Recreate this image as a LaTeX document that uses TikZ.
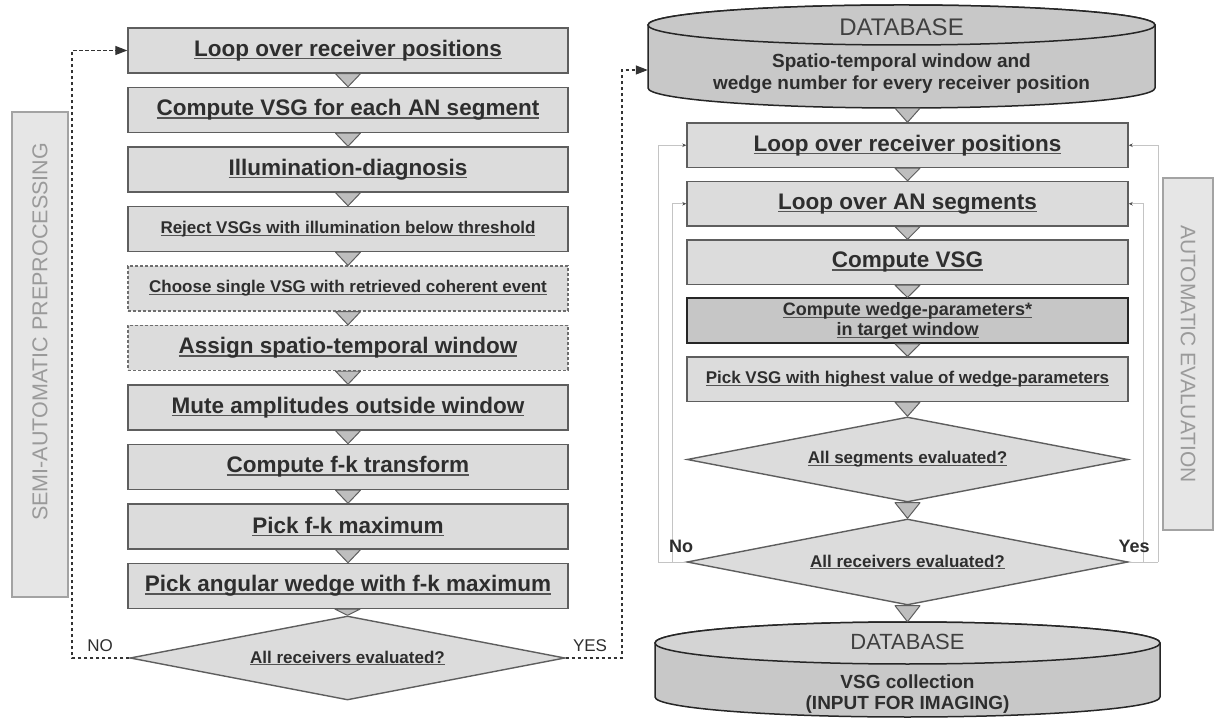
\documentclass[tikz,border=0pt]{standalone}
\usepackage{fontspec}
\setmainfont{Liberation Sans}
\usepackage{graphicx}
\usetikzlibrary{shapes.geometric,arrows.meta,calc}
\definecolor{boxc}{HTML}{DCDCDC}
\definecolor{bordc}{HTML}{5E5E5E}
\definecolor{txtc}{HTML}{2E2E2E}
\definecolor{ulc}{HTML}{555555}
\definecolor{trifill}{HTML}{BEBEBE}
\definecolor{cylc}{HTML}{C8C8C8}
\definecolor{cyltop}{HTML}{D4D4D4}
\definecolor{darkbox}{HTML}{C6C6C6}
\definecolor{sidec}{HTML}{E6E6E6}
\definecolor{sideb}{HTML}{A3A3A3}
\definecolor{sidet}{HTML}{9A9A9A}
\definecolor{loopc}{HTML}{C4C4C4}
\newsavebox\ulbx
\newcommand\myul[1]{\sbox\ulbx{#1}\leavevmode\rlap{\color{ulc}\rule[-0.13em]{\wd\ulbx}{0.06em}}\usebox\ulbx}
\newcommand\trian[2]{\filldraw[trist] ($(#1.south -| #2.north)+(-12.5pt,0)$) -- ($(#1.south -| #2.north)+(12.5pt,0)$) -- (#2.north) -- cycle;}
\tikzset{
  box/.style={draw=bordc, fill=boxc, line width=1.4pt, minimum width=440pt, minimum height=45pt, inner sep=0pt, text=txtc, font=\bfseries\fontsize{22.5}{26}\selectfont},
  rbox/.style={box, minimum width=441pt, minimum height=44.5pt},
  smalltxt/.style={font=\bfseries\fontsize{17}{21}\selectfont},
  dashbox/.style={dash pattern=on 3pt off 2pt, line width=1.2pt, draw=bordc!90},
  dia/.style={diamond, aspect=5, draw=bordc, fill=boxc, line width=1.4pt, inner sep=0pt, text=txtc, font=\bfseries\fontsize{17}{21}\selectfont},
  trist/.style={fill=trifill, draw=bordc, line width=1pt, line join=round},
  cylst/.style={fill=cylc, draw=black!85, line width=1.5pt},
  sidebox/.style={draw=sideb, fill=sidec, line width=2.5pt, inner sep=0pt},
  sidetext/.style={inner sep=0pt, text=sidet, font=\fontsize{21.5}{24}\selectfont},
  dashline/.style={draw=black!80, line width=1.2pt, dash pattern=on 3.5pt off 2.5pt},
  loopl/.style={draw=loopc, line width=0.7pt},
  lbl/.style={inner sep=0pt, text=txtc},
}
\begin{document}
\begin{tikzpicture}[x=1pt,y=1pt]
\useasboundingbox (0,0) rectangle (1217,720);
% ---------- left side label
\node[sidebox, minimum width=56pt, minimum height=485pt] (lab1) at (40,365.5) {};
\node[sidetext, rotate=90] (lab1t) at (40,388) {SEMI-AUTOMATIC PREPROCESSING};
% ---------- left column
\node[box] (b1) at (348,669.5) {\myul{Loop over receiver positions}};
\node[box] (b2) at (348,610) {\myul{Compute VSG for each AN segment}};
\node[box] (b3) at (348,550.5) {\myul{Illumination-diagnosis}};
\node[box, smalltxt] (b4) at (348,491) {\myul{Reject VSGs with illumination below threshold}};
\node[box, smalltxt, dashbox] (b5) at (348,431.5) {\myul{Choose single VSG with retrieved coherent event}};
\node[box, dashbox] (b6) at (348,372) {\myul{Assign spatio-temporal window}};
\node[box] (b7) at (348,312.5) {\myul{Mute amplitudes outside window}};
\node[box] (b8) at (348,253) {\myul{Compute f-k transform}};
\node[box] (b9) at (348,193.5) {\myul{Pick f-k maximum}};
\node[box] (b10) at (348,134) {\myul{Pick angular wedge with f-k maximum}};
\node[dia, minimum width=435pt, minimum height=84pt] (d0) at (347.5,62) {\myul{All receivers evaluated?}};
\trian{b1}{b2}\trian{b2}{b3}\trian{b3}{b4}\trian{b4}{b5}\trian{b5}{b6}
\trian{b6}{b7}\trian{b7}{b8}\trian{b8}{b9}\trian{b9}{b10}\trian{b10}{d0}
\node[lbl, font=\fontsize{17}{20}\selectfont] (no0) at (100,74) {NO};
\node[lbl, font=\fontsize{17}{20}\selectfont] (yes0) at (590,74) {YES};
\coordinate (cL) at (72,62);
\coordinate (cR) at (622,62);
\coordinate (cRt) at (622,650);
\draw[dashline, -{Triangle[length=12pt,width=9pt]}] (d0.west) -- (cL) |- (b1.west);
% ---------- right column: top database
\node[minimum width=507pt, minimum height=103pt, inner sep=0pt] (db1) at (901.5,663.5) {};
\filldraw[cylst] (648,695) -- (648,632) arc[start angle=180,end angle=360,x radius=253.5pt,y radius=20pt] -- (1155,695) arc[start angle=0,end angle=180,x radius=253.5pt,y radius=20pt] -- cycle;
\draw[cylst] (901.5,695) ellipse [x radius=253.5pt, y radius=20pt];
\node[lbl, font=\fontsize{24}{28}\selectfont, text=black!75] (db1t) at (901.5,693) {DATABASE};
\node[lbl, align=center, font=\bfseries\fontsize{19}{22}\selectfont] (db1b) at (901.5,646) {Spatio-temporal window and\\wedge number for every receiver position};
\draw[dashline, -{Triangle[length=12pt,width=9pt]}] (d0.east) -- (cR) -- (cRt) -- (cRt -| db1.west);
% ---------- right boxes
\node[rbox] (r1) at (907.5,574.75) {\myul{Loop over receiver positions}};
\node[rbox] (r2) at (907.5,516.25) {\myul{Loop over AN segments}};
\node[rbox] (r3) at (907.5,457.75) {\myul{Compute VSG}};
\node[rbox, fill=darkbox, draw=black!85, line width=2pt, align=center, font=\bfseries\fontsize{18}{20}\selectfont] (r4) at (907.5,399.25) {\myul{Compute wedge-parameters*}\\\myul{in target window}};
\node[rbox, smalltxt] (r5) at (907.5,340.75) {\myul{Pick VSG with highest value of wedge-parameters}};
\node[dia, minimum width=441pt, minimum height=85pt] (d1) at (907.5,260.5) {\myul{All segments evaluated?}};
\node[dia, minimum width=441pt, minimum height=86pt] (d2) at (907.5,158) {\myul{All receivers evaluated?}};
% ---------- bottom database
\node[minimum width=505pt, minimum height=95pt, inner sep=0pt] (db2) at (907.5,50.5) {};
\filldraw[cylst] (655,77) -- (655,23) arc[start angle=180,end angle=360,x radius=252.5pt,y radius=20pt] -- (1160,77) arc[start angle=0,end angle=180,x radius=252.5pt,y radius=21pt] -- cycle;
\draw[cylst, fill=cyltop] (907.5,77) ellipse [x radius=252.5pt, y radius=21pt];
\node[lbl, font=\fontsize{22}{26}\selectfont, text=black!75] (db2t) at (907.5,78) {DATABASE};
\node[lbl, align=center, font=\bfseries\fontsize{19}{21}\selectfont] (db2b) at (907.5,26) {VSG collection\\(INPUT FOR IMAGING)};
\trian{db1}{r1}\trian{r1}{r2}\trian{r2}{r3}\trian{r3}{r4}\trian{r4}{r5}
\trian{r5}{d1}\trian{d1}{d2}\trian{d2}{db2}
% ---------- loops
\coordinate (lo) at (658,158);
\coordinate (li) at (672,158);
\coordinate (ro) at (1158,158);
\coordinate (ri) at (1143,158);
\draw[loopl] (d2.west) -- (lo);
\draw[loopl] (d2.east) -- (ro);
\draw[loopl, -{Stealth[length=4pt,width=3.5pt,color=black!70]}] (lo) |- (r1.west);
\draw[loopl, -{Stealth[length=4pt,width=3.5pt,color=black!70]}] (li) |- (r2.west);
\draw[loopl, -{Stealth[length=4pt,width=3.5pt,color=black!70]}] (ro) |- (r1.east);
\draw[loopl, -{Stealth[length=4pt,width=3.5pt,color=black!70]}] (ri) |- (r2.east);
\node[lbl, font=\bfseries\fontsize{18}{20}\selectfont] (no1) at (681,174) {No};
\node[lbl, font=\bfseries\fontsize{18}{20}\selectfont] (yes1) at (1134,174) {Yes};
% ---------- right side label
\node[sidebox, minimum width=50pt, minimum height=352pt] (lab2) at (1188,366) {};
\node[sidetext, rotate=-90, font=\fontsize{21}{24}\selectfont] (lab2t) at (1188,366) {AUTOMATIC EVALUATION};
\end{tikzpicture}
\end{document}
